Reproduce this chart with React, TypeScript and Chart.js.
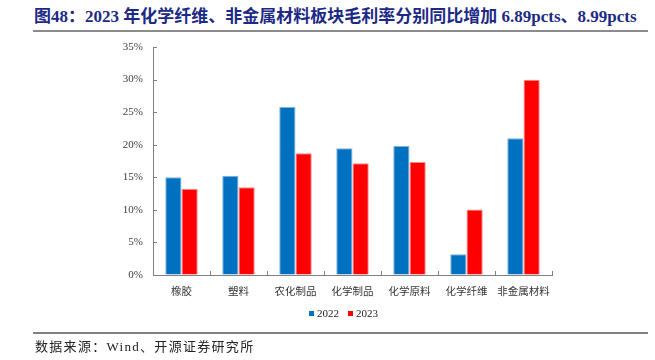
import React, { useEffect, useRef } from "react";
import { Chart, registerables } from "chart.js";

Chart.register(...registerables);

const categories = ["橡胶", "塑料", "农化制品", "化学制品", "化学原料", "化学纤维", "非金属材料"];
const values2022 = [15.0, 15.24, 25.8, 19.45, 19.8, 3.17, 21.0];
const values2023 = [13.25, 13.46, 18.7, 17.15, 17.35, 10.06, 29.99];
const seriesNames = ["2022", "2023"];
const yTicks = [0, 5, 10, 15, 20, 25, 30, 35];
const titleText = "图48：2023 年化学纤维、非金属材料板块毛利率分别同比增加 6.89pcts、8.99pcts";
const sourceText = "数据来源：Wind、开源证券研究所";

const BLUE = "#0070C0";
const RED = "#FF0000";

const innerTicks = {
  id: "innerTicks",
  afterDraw(chart: any) {
    const ctx = chart.ctx;
    const y = chart.scales.y;
    const a = chart.chartArea;
    ctx.save();
    ctx.strokeStyle = "#808080";
    ctx.lineWidth = 1;
    ctx.beginPath();
    yTicks.forEach((v) => {
      const py = Math.round(y.getPixelForValue(v)) + 0.5;
      ctx.moveTo(a.left, py);
      ctx.lineTo(a.left + 4, py);
    });
    const n = categories.length;
    for (let i = 1; i <= n; i++) {
      const px = Math.round(a.left + ((a.right - a.left) * i) / n) + 0.5;
      ctx.moveTo(px, a.bottom);
      ctx.lineTo(px, a.bottom - 4);
    }
    ctx.stroke();
    ctx.restore();
  },
};

export default function App() {
  const ref = useRef<HTMLCanvasElement | null>(null);

  useEffect(() => {
    if (!ref.current) return;
    const chart = new Chart(ref.current, {
      type: "bar",
      data: {
        labels: categories,
        datasets: [
          {
            label: seriesNames[0],
            data: values2022,
            backgroundColor: BLUE,
            borderColor: "#7fb2dd",
            borderWidth: { top: 1, left: 1, right: 1, bottom: 0 },
            categoryPercentage: 0.57,
            barPercentage: 1,
          },
          {
            label: seriesNames[1],
            data: values2023,
            backgroundColor: RED,
            borderColor: "#ff8a8a",
            borderWidth: { top: 1, left: 1, right: 1, bottom: 0 },
            categoryPercentage: 0.57,
            barPercentage: 1,
          },
        ],
      },
      options: {
        responsive: false,
        animation: false,
        layout: { padding: { left: 0, right: 103, top: 47, bottom: 55 } },
        plugins: { legend: { display: false }, tooltip: { enabled: false } },
        scales: {
          x: {
            grid: { display: true, drawOnChartArea: false, drawTicks: false },
            border: { display: true, color: "#808080", width: 1 },
            ticks: {
              padding: 10,
              color: "#333333",
              font: { family: "'Noto Sans CJK SC'", size: 10.5 },
              maxRotation: 0,
              autoSkip: false,
            },
            afterFit: (s: any) => {
              s.height = 30;
            },
          },
          y: {
            min: 0,
            max: 35,
            grid: { display: true, drawOnChartArea: false, drawTicks: false },
            border: { display: true, color: "#808080", width: 1 },
            ticks: {
              stepSize: 5,
              padding: 10,
              color: "#404040",
              font: { family: "'Liberation Serif'", size: 11 },
              callback: (v: any) => v + "%",
            },
            afterFit: (s: any) => {
              s.width = 153;
            },
          },
        },
      },
      plugins: [innerTicks],
    });
    return () => chart.destroy();
  }, []);

  return (
    <div style={{ position: "fixed", left: 0, top: 0, width: 655, height: 360, background: "#fff", overflow: "hidden" }}>
      <div
        style={{
          position: "absolute",
          left: 34,
          top: 7,
          whiteSpace: "nowrap",
          fontFamily: "'Liberation Serif', 'Noto Sans CJK SC'",
          fontWeight: "bold",
          fontSize: 17,
          lineHeight: "20px",
          color: "#1c2a86",
        }}
      >
        {titleText}
      </div>
      <div style={{ position: "absolute", left: 33, top: 30, width: 615, height: 2, background: "#8c8c8c" }} />
      <canvas ref={ref} width={655} height={360} style={{ position: "absolute", left: 0, top: 0 }} />
      <div
        style={{
          position: "absolute",
          left: 309,
          top: 306,
          height: 14,
          display: "flex",
          alignItems: "center",
          fontFamily: "'Liberation Serif'",
          fontSize: 11,
          color: "#222",
          whiteSpace: "nowrap",
        }}
      >
        <span style={{ display: "inline-block", width: 5, height: 5, background: BLUE, marginRight: 3 }} />
        <span>{seriesNames[0]}</span>
        <span style={{ display: "inline-block", width: 5, height: 5, background: RED, marginLeft: 9, marginRight: 3 }} />
        <span>{seriesNames[1]}</span>
      </div>
      <div style={{ position: "absolute", left: 33, top: 332, width: 615, height: 1.5, background: "#808080" }} />
      <div
        style={{
          position: "absolute",
          left: 35,
          top: 339,
          whiteSpace: "nowrap",
          fontFamily: "'Liberation Serif', 'Noto Sans CJK SC'",
          fontSize: 13,
          lineHeight: "16px",
          letterSpacing: "1.3px",
          color: "#222",
        }}
      >
        {sourceText}
      </div>
    </div>
  );
}
